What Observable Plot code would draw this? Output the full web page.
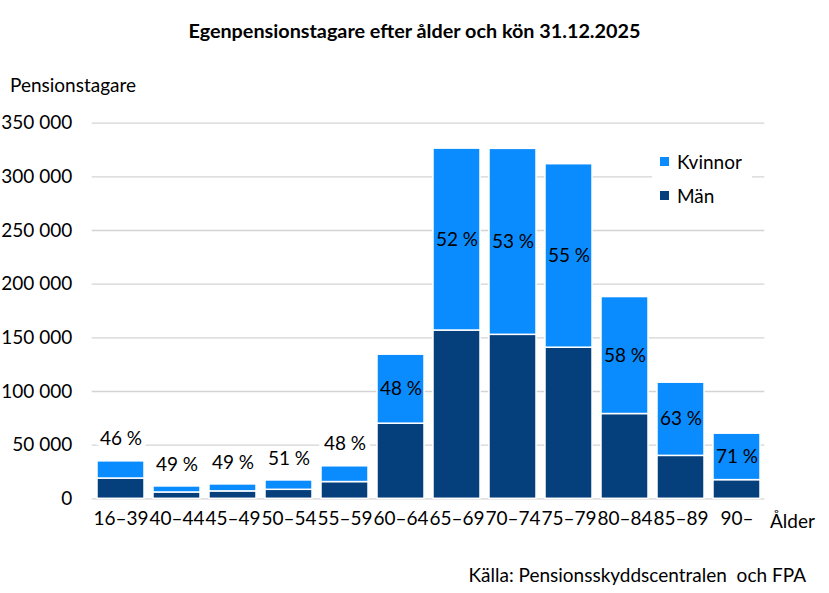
<!DOCTYPE html>
<html>
<head>
<meta charset="utf-8">
<script src="https://cdn.jsdelivr.net/npm/d3@7"></script>
<script src="https://cdn.jsdelivr.net/npm/@observablehq/plot@0.6"></script>
<style>
  html, body { margin: 0; padding: 0; background: #fff; }
  #wrap { position: relative; width: 829px; height: 593px; font-family: Lato, "Open Sans", sans-serif; color: #000; overflow: hidden; }
  .abs { position: absolute; white-space: nowrap; line-height: 1; }
  #title { top: 21px; left: 0; width: 829px; text-align: center; font-weight: bold; font-size: 19.8px; }
  #ylab { top: 75px; left: 10px; font-size: 19px; }
  #xlab { top: 511px; left: 770px; font-size: 19px; }
  #source { top: 565px; right: 23px; font-size: 19px; }
  #chart { position: absolute; top: 100px; left: 0; }
  #legend { position: absolute; top: 140px; left: 652px; background: #fff; padding: 4px 10px 4px 8px; font-size: 19px; }
  .li { display: flex; align-items: center; height: 34px; }
  .sw { width: 9px; height: 9px; margin-right: 8px; }
</style>
</head>
<body>
<div id="wrap">
  <div id="title" class="abs">Egenpensionstagare efter ålder och kön 31.12.2025</div>
  <div id="ylab" class="abs">Pensionstagare</div>
  <div id="chart"></div>
  <div id="xlab" class="abs">Ålder</div>
  <div id="source" class="abs">Källa: Pensionsskyddscentralen&nbsp; och FPA</div>
  <div id="legend"></div>
</div>
<script>
const ages = ["16–39","40–44","45–49","50–54","55–59","60–64","65–69","70–74","75–79","80–84","85–89","90–"];
const men = [18900, 5900, 6900, 8400, 15600, 70000, 156800, 152800, 140800, 79000, 40000, 17400];
const women = [16000, 5600, 6500, 8700, 14700, 64300, 169500, 173300, 171000, 109000, 68200, 43300];
const womenShare = [46, 49, 49, 51, 48, 48, 52, 53, 55, 58, 63, 71];
const yTicks = [0, 50000, 100000, 150000, 200000, 250000, 300000, 350000];
const seriesNames = ["Kvinnor", "Män"];
const seriesColors = ["#0A8CFF", "#053F7C"];

const data = [];
ages.forEach((a, i) => {
  data.push({age: a, sex: "Män", value: men[i]});
  data.push({age: a, sex: "Kvinnor", value: women[i]});
});
const labels = ages.map((a, i) => ({
  age: a,
  total: men[i] + women[i],
  mid: men[i] + women[i] / 2,
  text: womenShare[i] + " %"
}));
const inside = labels.filter(d => d.total >= 50000);
const above = labels.filter(d => d.total < 50000);

const loc = d3.formatLocale({decimal: ",", thousands: "\u00a0", grouping: [3], currency: ["", ""]});
const fmt = loc.format(",");

const chart = Plot.plot({
  width: 829,
  height: 445,
  marginLeft: 91.7,
  marginRight: 64.7,
  marginTop: 22.7,
  marginBottom: 46.7,
  style: {fontFamily: "Lato, 'Open Sans', sans-serif", fontSize: "19px", color: "#000", background: "transparent"},
  x: {domain: ages, paddingInner: 0.167, paddingOuter: 0.083},
  y: {domain: [0, 350000]},
  color: {domain: seriesNames, range: seriesColors},
  marks: [
    Plot.ruleY(yTicks, {stroke: "#d4d4d4", strokeWidth: 1.3}),
    Plot.barY(data, {x: "age", y: "value", z: "sex", fill: "sex", order: ["Män", "Kvinnor"], stroke: "white", strokeWidth: 1.5}),
    Plot.text(inside, {x: "age", y: "mid", text: "text", fill: "#000"}),
    Plot.text(above, {x: "age", y: "total", dy: -22, text: "text", fill: "#000", stroke: "white", strokeWidth: 10}),
    Plot.axisY({ticks: yTicks, tickSize: 0, tickPadding: 20, tickFormat: fmt, label: null}),
    Plot.axisX({tickSize: 0, tickPadding: 13, label: null})
  ]
});
document.getElementById("chart").appendChild(chart);

const legend = document.getElementById("legend");
seriesNames.forEach((name, i) => {
  const row = document.createElement("div");
  row.className = "li";
  const sw = document.createElement("span");
  sw.className = "sw";
  sw.style.background = seriesColors[i];
  const t = document.createElement("span");
  t.textContent = name;
  row.appendChild(sw);
  row.appendChild(t);
  legend.appendChild(row);
});
</script>
</body>
</html>
